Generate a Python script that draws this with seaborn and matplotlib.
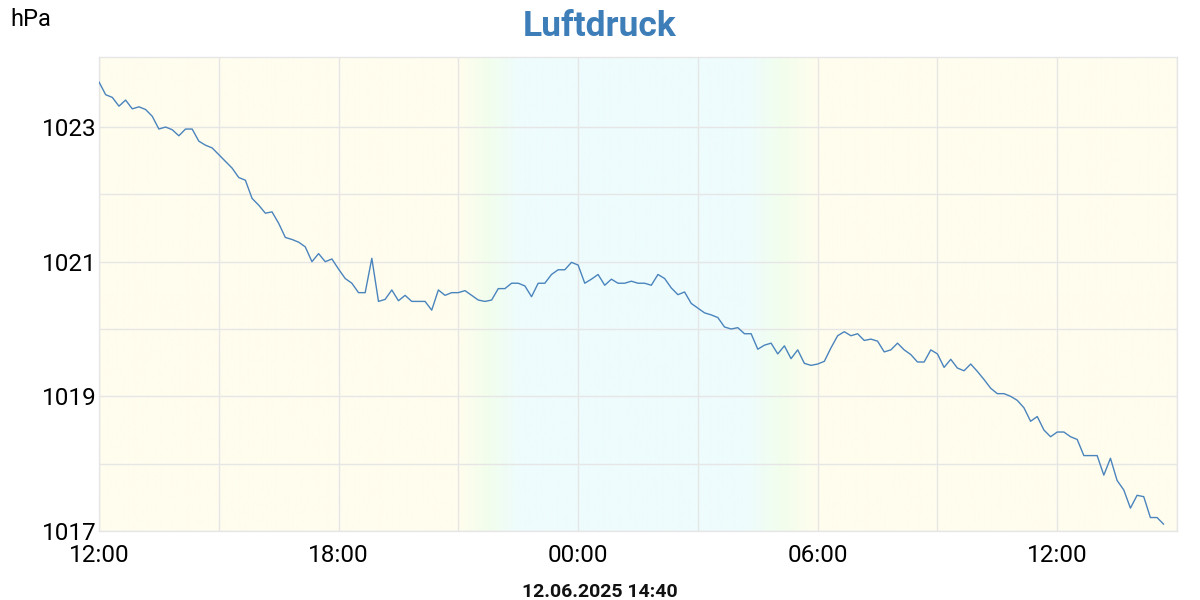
import numpy as np
import pandas as pd
import seaborn as sns
import matplotlib.pyplot as plt
import matplotlib.dates as mdates
from matplotlib.ticker import FixedLocator

# Luftdruck, 10-Minuten-Werte ab 11.06.2025 12:00
start = "2025-06-11 12:00"
pressure = [
    1023.67, 1023.48, 1023.44, 1023.31, 1023.40, 1023.27, 1023.30, 1023.26, 1023.16, 1022.97,
    1023.00, 1022.96, 1022.87, 1022.97, 1022.97, 1022.79, 1022.73, 1022.69, 1022.59, 1022.49,
    1022.39, 1022.25, 1022.21, 1021.94, 1021.84, 1021.72, 1021.74, 1021.57, 1021.36, 1021.33,
    1021.29, 1021.22, 1021.00, 1021.12, 1021.00, 1021.04, 1020.89, 1020.75, 1020.68, 1020.54,
    1020.54, 1021.05, 1020.41, 1020.44, 1020.58, 1020.42, 1020.50, 1020.41, 1020.41, 1020.41,
    1020.28, 1020.58, 1020.50, 1020.54, 1020.54, 1020.57, 1020.50, 1020.43, 1020.41, 1020.43,
    1020.60, 1020.60, 1020.68, 1020.68, 1020.64, 1020.48, 1020.68, 1020.68, 1020.81, 1020.88,
    1020.88, 1020.99, 1020.95, 1020.68, 1020.74, 1020.81, 1020.65, 1020.74, 1020.68, 1020.68,
    1020.71, 1020.68, 1020.68, 1020.65, 1020.81, 1020.75, 1020.61, 1020.51, 1020.55, 1020.38,
    1020.31, 1020.24, 1020.21, 1020.17, 1020.03, 1020.00, 1020.02, 1019.93, 1019.93, 1019.70,
    1019.76, 1019.79, 1019.63, 1019.75, 1019.56, 1019.69, 1019.49, 1019.46, 1019.48, 1019.52,
    1019.72, 1019.90, 1019.96, 1019.90, 1019.93, 1019.83, 1019.85, 1019.82, 1019.66, 1019.69,
    1019.79, 1019.69, 1019.62, 1019.51, 1019.51, 1019.69, 1019.63, 1019.43, 1019.55, 1019.42,
    1019.38, 1019.48, 1019.37, 1019.25, 1019.12, 1019.04, 1019.04, 1019.00, 1018.94, 1018.83,
    1018.63, 1018.70, 1018.50, 1018.40, 1018.47, 1018.47, 1018.40, 1018.36, 1018.12, 1018.12,
    1018.12, 1017.83, 1018.08, 1017.75, 1017.61, 1017.34, 1017.53, 1017.51, 1017.20, 1017.20,
    1017.10,
]
y_labels = [1017, 1019, 1021, 1023]
y_grid = [1018, 1020, 1022]
stamp = "12.06.2025 14:40"

df = pd.DataFrame({
    "zeit": pd.date_range(start, periods=len(pressure), freq="10min"),
    "hPa": pressure,
})

sns.set_theme(style="white")
plt.rcParams['font.family'] = ['Roboto', 'DejaVu Sans']

fig = plt.figure(figsize=(12, 6), dpi=100)
ax = fig.add_axes([99/1200, 69/600, 1078/1200, 474/600])

t0 = pd.Timestamp(start)
t1 = t0 + pd.Timedelta(hours=27)
x0, x1 = mdates.date2num(t0), mdates.date2num(t1)
ytop = 1024.04

# Hintergrund: Tag gelblich, Nacht hellcyan, Übergänge mit Verlauf
day = np.array([255, 253, 238]) / 255
mid = np.array([242, 254, 236]) / 255
night = np.array([238, 252, 253]) / 255
hrs = np.linspace(0, 27, 1200)
def bg(h):
    def blend(a, b, f):
        return a + (b - a) * f
    if h < 9 or h >= 18:
        return day
    if h < 9.75:
        return blend(day, mid, (h - 9) / 0.75)
    if h < 10.5:
        return blend(mid, night, (h - 9.75) / 0.75)
    if h < 16.25:
        return night
    if h < 17.1:
        return blend(night, mid, (h - 16.25) / 0.85)
    return blend(mid, day, (h - 17.1) / 0.9)
img = np.array([bg(h) for h in hrs])[None, :, :]
ax.imshow(img, extent=[x0, x1, 1017, ytop], aspect='auto', zorder=0)

sns.lineplot(data=df, x="zeit", y="hPa", ax=ax, color="#4a84bd", linewidth=1, zorder=3)

ax.set_xlim(x0, x1)
ax.set_ylim(1017, ytop)
ax.xaxis.set_major_locator(mdates.HourLocator(byhour=[0, 6, 12, 18]))
ax.xaxis.set_minor_locator(mdates.HourLocator(byhour=[3, 9, 15, 21]))
ax.xaxis.set_major_formatter(mdates.DateFormatter("%H:%M"))
ax.yaxis.set_major_locator(FixedLocator(y_labels))
ax.yaxis.set_minor_locator(FixedLocator(y_grid))
ax.grid(True, which='both', color='#e6e6e6', linewidth=1, zorder=1)
ax.set_axisbelow(False)
for l in ax.get_xgridlines() + ax.get_ygridlines():
    l.set_zorder(1)
ax.tick_params(axis='both', which='both', length=0, labelsize=17.5, colors='#000000')
ax.tick_params(axis='x', pad=9)
ax.tick_params(axis='y', pad=2)
ax.set_xlabel("")
ax.set_ylabel("")
for s in ax.spines.values():
    s.set_color('#e6e6e6')
    s.set_linewidth(1)

fig.text(0.5, 1 - 27/600, "Luftdruck", ha='center', va='center', fontsize=25.5,
         fontweight='bold', color='#3d7db8')
fig.text(10/1200, 1 - 19/600, "hPa", ha='left', va='center', fontsize=17, color='#000000')
fig.text(0.5, 1 - 592/600, stamp, ha='center', va='center', fontsize=14,
         fontweight='bold', color='#111111')

fig.savefig("out.png", dpi=100)
